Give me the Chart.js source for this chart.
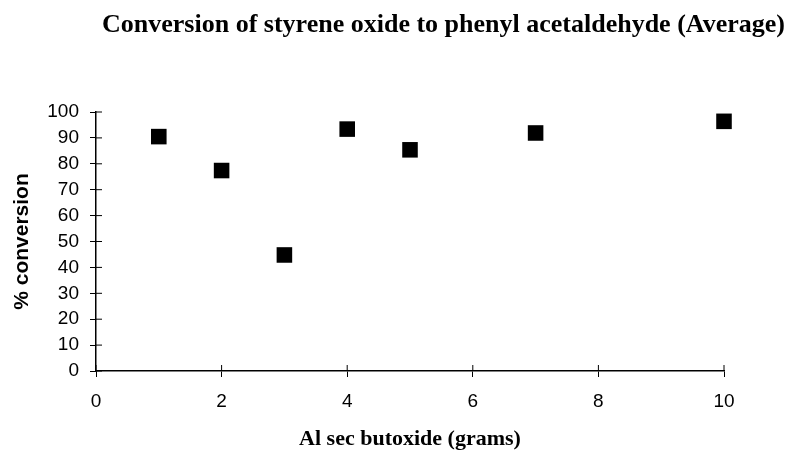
<!DOCTYPE html>
<html>
<head>
<meta charset="utf-8">
<script src="https://cdn.jsdelivr.net/npm/chart.js@4/dist/chart.umd.min.js"></script>
<style>
  html, body { margin: 0; padding: 0; background: #fff; }
  #wrap { width: 791px; height: 453px; position: relative; }
</style>
</head>
<body>
<div id="wrap"><canvas id="graphe"></canvas></div>
<script>
// données
const aluminiumGrams = [1, 2, 3, 4, 5, 7, 10]
const conversionPct = [90.5, 77.4, 44.8, 93.4, 85.4, 91.9, 96.4]
const TITRE = 'Conversion of styrene oxide to phenyl acetaldehyde (Average)'
const TITRE_X = 'Al sec butoxide (grams)'
const TITRE_Y = '% conversion'

// titre dessiné à la main car il est décalé vers la droite par rapport au canvas
const titrePlugin = {
  id: 'titreDecale',
  afterDraw(chart) {
    const ctx = chart.ctx
    ctx.save()
    ctx.font = 'bold 26px "Liberation Serif", "Times New Roman", serif'
    ctx.fillStyle = '#000'
    ctx.textAlign = 'center'
    ctx.textBaseline = 'middle'
    ctx.fillText(TITRE, 443.5, 25)
    ctx.restore()
  }
}

// petits traits de graduation qui traversent l'axe vers l'intérieur
const traitsPlugin = {
  id: 'traitsInterieurs',
  afterDraw(chart) {
    const ctx = chart.ctx
    const x = chart.scales.x
    const y = chart.scales.y
    ctx.save()
    ctx.strokeStyle = '#000'
    ctx.lineWidth = 1
    ctx.beginPath()
    x.ticks.forEach(t => {
      const px = x.getPixelForValue(t.value)
      ctx.moveTo(px, x.top)
      ctx.lineTo(px, x.top - 6)
    })
    y.ticks.forEach(t => {
      const py = y.getPixelForValue(t.value)
      ctx.moveTo(y.right, py)
      ctx.lineTo(y.right + 6, py)
    })
    ctx.stroke()
    ctx.restore()
  }
}

document.addEventListener('DOMContentLoaded', function () {
  const points = aluminiumGrams.map((g, i) => ({ x: g, y: conversionPct[i] }))

  const config = {
    type: 'scatter',
    data: {
      datasets: [{
        label: '% conversion',
        data: points,
        pointStyle: 'rect',
        pointRadius: 11,
        pointHoverRadius: 11,
        backgroundColor: '#000',
        borderColor: '#000',
        borderWidth: 0,
        clip: false
      }]
    },
    options: {
      responsive: false,
      animation: false,
      layout: { padding: { top: 112, right: 67, bottom: 0, left: 0 } },
      plugins: {
        legend: { display: false },
        title: { display: false },
        tooltip: { enabled: false }
      },
      scales: {
        x: {
          type: 'linear',
          min: 0,
          max: 10,
          afterFit(scale) { scale.height = 82 },
          ticks: {
            stepSize: 2,
            color: '#000',
            padding: 13,
            maxRotation: 0,
            font: { family: '"Liberation Sans", Arial, sans-serif', size: 19 }
          },
          grid: { drawOnChartArea: false, drawTicks: true, tickLength: 6, color: '#000', lineWidth: 1 },
          border: { display: true, color: '#000', width: 1.5 },
          title: {
            display: true,
            text: TITRE_X,
            color: '#000',
            padding: { top: 0, bottom: 0 },
            font: { family: '"Liberation Serif", "Times New Roman", serif', size: 22, weight: 'bold' }
          }
        },
        y: {
          min: 0,
          max: 100,
          afterFit(scale) { scale.width = 96 },
          ticks: {
            stepSize: 10,
            color: '#000',
            padding: 11,
            font: { family: '"Liberation Sans", Arial, sans-serif', size: 19 }
          },
          grid: { drawOnChartArea: false, drawTicks: true, tickLength: 6, color: '#000', lineWidth: 1 },
          border: { display: true, color: '#000', width: 1.5 },
          title: {
            display: true,
            text: TITRE_Y,
            color: '#000',
            padding: { top: 10, bottom: 0 },
            font: { family: '"Liberation Sans", Arial, sans-serif', size: 21, weight: 'bold' }
          }
        }
      }
    },
    plugins: [titrePlugin, traitsPlugin]
  }

  const canvas = document.getElementById('graphe')
  canvas.width = 791
  canvas.height = 453
  new Chart(canvas, config)
})
</script>
</body>
</html>
